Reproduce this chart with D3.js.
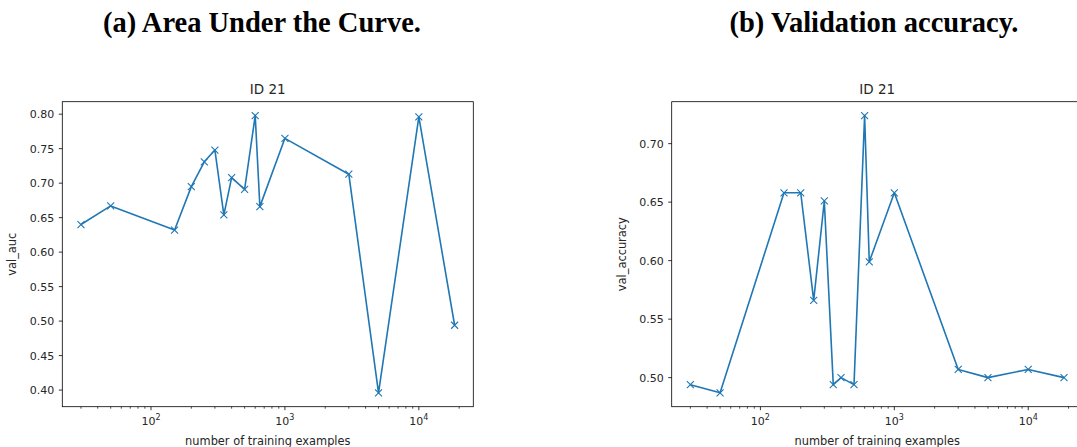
<!DOCTYPE html>
<html lang="en">
<head>
  <meta charset="UTF-8">
  <title>ID 21 - training examples</title>
  <script src="https://d3js.org/d3.v7.min.js"></script>
  <style>
    body {
      margin: 0;
      background-color: #ffffff;
    }
    svg text {
      font-family: "DejaVu Sans", sans-serif;
      fill: #262626;
    }
    svg text.caption {
      font-family: "Liberation Serif", "Times New Roman", serif;
      font-weight: bold;
      fill: #000;
    }
  </style>
</head>
<body>
  <div id="chart"></div>

  <script>
    // number of training examples (x) and the two metrics
    const trainSizes = [30, 50, 150, 200, 250, 300, 350, 400, 500, 600, 650, 1000, 3000, 5000, 10000, 18500];
    const valAuc = [0.640, 0.667, 0.632, 0.695, 0.731, 0.748, 0.654, 0.708, 0.691, 0.798, 0.666, 0.765, 0.713, 0.396, 0.796, 0.494];
    const valAccuracy = [0.494, 0.487, 0.658, 0.658, 0.566, 0.651, 0.494, 0.500, 0.494, 0.724, 0.599, 0.658, 0.507, 0.500, 0.507, 0.500];

    const xTickValues = [100, 1000, 10000];
    const aucTicks = [0.40, 0.45, 0.50, 0.55, 0.60, 0.65, 0.70, 0.75, 0.80];
    const accTicks = [0.50, 0.55, 0.60, 0.65, 0.70];

    const panels = [
      { caption: "(a) Area Under the Curve.", captionX: 262, left: 62.3, ylabel: "val_auc", values: valAuc, ticks: aucTicks },
      { caption: "(b) Validation accuracy.", captionX: 874, left: 671.7, ylabel: "val_accuracy", values: valAccuracy, ticks: accTicks }
    ];

    const width = 1077, height = 447;
    const plotW = 411, plotTop = 101.7, plotBottom = 406.7;
    const blue = "#1f77b4";

    const svg = d3.select("#chart").append("svg")
      .attr("width", width)
      .attr("height", height);

    // matplotlib style 5% margins
    function padded(lo, hi) {
      const m = (hi - lo) * 0.05;
      return [lo - m, hi + m];
    }

    const logX = padded(Math.log10(d3.min(trainSizes)), Math.log10(d3.max(trainSizes)));

    panels.forEach(p => {
      svg.append("text")
        .attr("class", "caption")
        .attr("x", p.captionX)
        .attr("y", 32)
        .attr("text-anchor", "middle")
        .style("font-size", "28.5px")
        .text(p.caption);

      const x = d3.scaleLog()
        .domain([Math.pow(10, logX[0]), Math.pow(10, logX[1])])
        .range([p.left, p.left + plotW]);
      const y = d3.scaleLinear()
        .domain(padded(d3.min(p.values), d3.max(p.values)))
        .range([plotBottom, plotTop]);

      const g = svg.append("g");

      // minor ticks on the log axis
      const minor = x.ticks().filter(t => !xTickValues.includes(t));
      g.selectAll(".minor")
        .data(minor)
        .enter()
        .append("line")
        .attr("x1", d => x(d)).attr("x2", d => x(d))
        .attr("y1", plotBottom).attr("y2", plotBottom + 2)
        .attr("stroke", "#000").attr("stroke-width", 0.7);

      g.selectAll(".major")
        .data(xTickValues)
        .enter()
        .append("line")
        .attr("x1", d => x(d)).attr("x2", d => x(d))
        .attr("y1", plotBottom).attr("y2", plotBottom + 3.5)
        .attr("stroke", "#000").attr("stroke-width", 0.8);

      const xl = g.selectAll(".xlab")
        .data(xTickValues)
        .enter()
        .append("text")
        .attr("x", d => x(d))
        .attr("y", plotBottom + 18)
        .attr("text-anchor", "middle")
        .style("font-size", "11px");
      xl.append("tspan").text("10");
      xl.append("tspan")
        .attr("dy", -5)
        .style("font-size", "8px")
        .text(d => Math.round(Math.log10(d)));

      // y ticks
      g.selectAll(".ytick")
        .data(p.ticks)
        .enter()
        .append("line")
        .attr("x1", p.left - 3.5).attr("x2", p.left)
        .attr("y1", d => y(d)).attr("y2", d => y(d))
        .attr("stroke", "#000").attr("stroke-width", 0.8);

      g.selectAll(".ylab")
        .data(p.ticks)
        .enter()
        .append("text")
        .attr("x", p.left - 8)
        .attr("y", d => y(d))
        .attr("dy", "0.36em")
        .attr("text-anchor", "end")
        .style("font-size", "11px")
        .text(d => d.toFixed(2));

      // data line and x markers
      const line = d3.line()
        .x((d, i) => x(trainSizes[i]))
        .y(d => y(d));

      g.append("path")
        .datum(p.values)
        .attr("d", line)
        .attr("fill", "none")
        .attr("stroke", blue)
        .attr("stroke-width", 1.6)
        .attr("stroke-linejoin", "round");

      const s = 3.5;
      g.selectAll(".mark")
        .data(p.values)
        .enter()
        .append("path")
        .attr("d", (d, i) => {
          const cx = x(trainSizes[i]), cy = y(d);
          return `M${cx - s},${cy - s}L${cx + s},${cy + s}M${cx - s},${cy + s}L${cx + s},${cy - s}`;
        })
        .attr("stroke", blue)
        .attr("stroke-width", 1.1);

      // frame
      g.append("rect")
        .attr("x", p.left).attr("y", plotTop)
        .attr("width", plotW).attr("height", plotBottom - plotTop)
        .attr("fill", "none")
        .attr("stroke", "#000")
        .attr("stroke-width", 0.8);

      g.append("text")
        .attr("x", p.left + plotW / 2)
        .attr("y", plotTop - 8)
        .attr("text-anchor", "middle")
        .style("font-size", "13.5px")
        .text("ID 21");

      g.append("text")
        .attr("x", p.left + plotW / 2)
        .attr("y", plotBottom + 38)
        .attr("text-anchor", "middle")
        .style("font-size", "11.4px")
        .text("number of training examples");

      g.append("text")
        .attr("transform", `translate(${p.left - 46},${(plotTop + plotBottom) / 2}) rotate(-90)`)
        .attr("text-anchor", "middle")
        .style("font-size", "11.4px")
        .text(p.ylabel);
    });
  </script>
</body>
</html>
